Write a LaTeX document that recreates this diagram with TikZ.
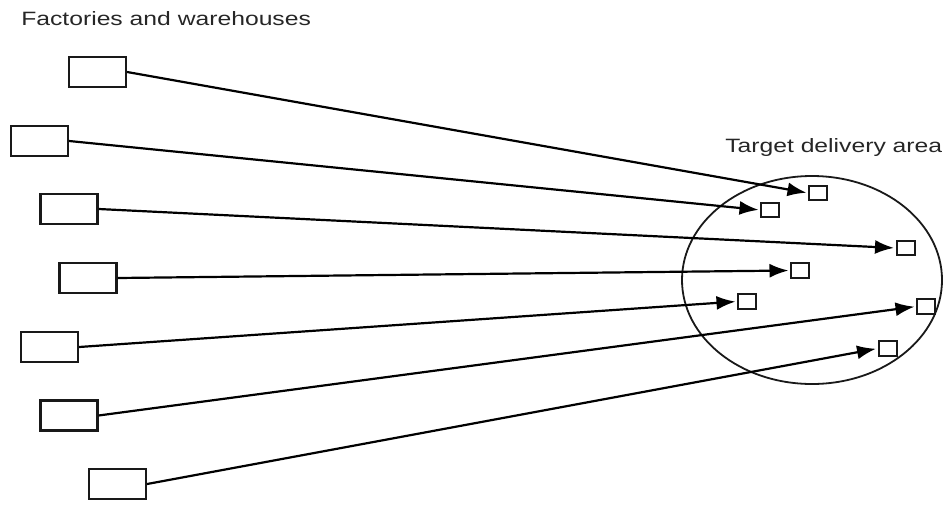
\documentclass[tikz,border=0pt]{standalone}
\usepackage{fontspec}
\setmainfont{Liberation Sans}
\usetikzlibrary{arrows.meta, shapes.geometric}
\tikzset{
    source/.style={rectangle, minimum width=57pt, minimum height=30pt, draw=black!90, line width=2.2pt, inner sep=0pt},
    target/.style={rectangle, minimum width=18pt, minimum height=14.5pt, draw=black!90, line width=2pt, inner sep=0pt},
    area/.style={ellipse, minimum width=260pt, minimum height=208pt, draw=black!90, line width=1.8pt, inner sep=0pt},
    caption/.style={anchor=base west, font=\fontsize{19.3}{22}\selectfont, xscale=1.28, text=black!85, inner sep=0pt},
    arrow/.style={line width=2.2pt, draw=black, -{Latex[length=19pt, width=14pt]}, shorten >=1.5pt}
}
\begin{document}
\begin{tikzpicture}[x=1pt, y=-1pt]
    \useasboundingbox (0,0) rectangle (945,504);
    % Labels
    \node[caption] (lblsrc) at (21,25) {Factories and warehouses};
    \node[caption] (lbltgt) at (725,152) {Target delivery area};

    % Delivery area
    \node[area] (zone) at (812,280) {};

    % Factories and warehouses
    \node[source] (s1) at (97.5,72) {};
    \node[source] (s2) at (39.5,141) {};
    \node[source] (s3) at (69,209) {};
    \node[source] (s4) at (88,278) {};
    \node[source] (s5) at (49.5,347) {};
    \node[source] (s6) at (69,415.5) {};
    \node[source] (s7) at (117.5,484) {};

    % Delivery points
    \node[target] (t1) at (818,193) {};
    \node[target] (t2) at (770,210) {};
    \node[target] (t3) at (905.5,248) {};
    \node[target] (t4) at (800,270.5) {};
    \node[target] (t5) at (747,301.5) {};
    \node[target] (t6) at (926,306.5) {};
    \node[target] (t7) at (887.5,348.5) {};

    % Shipments
    \foreach \i in {1,...,7} {
        \draw[arrow] (s\i.east) -- (t\i.west);
    }
\end{tikzpicture}
\end{document}
